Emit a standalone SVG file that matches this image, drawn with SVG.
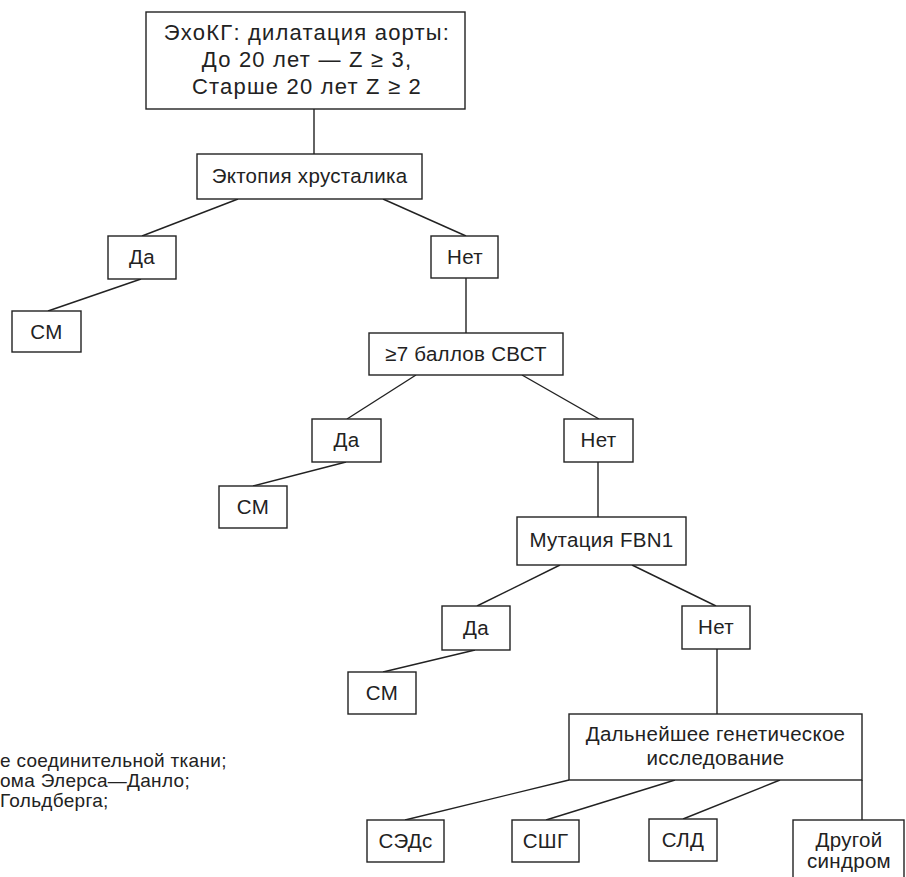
<svg xmlns="http://www.w3.org/2000/svg" width="906" height="877" viewBox="0 0 906 877">
<style>
.b{fill:#fff;stroke:#222;stroke-width:1.4}
.c line{stroke:#222;stroke-width:1.4;fill:none}
text{font-family:"Liberation Sans",Arial,sans-serif;fill:#222;font-size:20.5px;letter-spacing:0.3px;text-anchor:middle}
.big{font-size:22px;letter-spacing:1.2px}
.leg{font-size:19px;letter-spacing:0.3px;text-anchor:start}
</style>
<rect width="906" height="877" fill="#fff"/>
<g class="c" id="connectors">
<line x1="314" y1="109" x2="314" y2="154"/>
<line x1="238" y1="199" x2="142" y2="236"/>
<line x1="383" y1="199" x2="466" y2="236"/>
<line x1="141" y1="279" x2="48" y2="311"/>
<line x1="466" y1="278" x2="466" y2="333"/>
<line x1="416" y1="375" x2="347" y2="419"/>
<line x1="522" y1="375" x2="599" y2="419"/>
<line x1="346" y1="462" x2="253" y2="486"/>
<line x1="598" y1="462" x2="598" y2="517"/>
<line x1="560" y1="565" x2="477" y2="606"/>
<line x1="632" y1="565" x2="716" y2="606"/>
<line x1="475" y1="650" x2="383" y2="672"/>
<line x1="717" y1="649" x2="717" y2="714"/>
<line x1="569" y1="780" x2="405" y2="820"/>
<line x1="675" y1="780" x2="546" y2="820"/>
<line x1="780" y1="780" x2="683" y2="819"/>
<line x1="862" y1="780" x2="862" y2="820"/>
</g>
<g id="n-echo"><rect class="b" x="146" y="12" width="319" height="97"/>
<text class="big" x="307" y="40">ЭхоКГ: дилатация аорты:</text>
<text class="big" x="307" y="67">До 20 лет — Z ≥ 3,</text>
<text class="big" x="307" y="94">Старше 20 лет Z ≥ 2</text></g>
<g id="n-ect"><rect class="b" x="197" y="154" width="225" height="45"/><text x="309.5" y="183">Эктопия хрусталика</text></g>
<g id="n-da1"><rect class="b" x="108" y="236" width="68" height="43"/><text x="142" y="264">Да</text></g>
<g id="n-net1"><rect class="b" x="431" y="236" width="67" height="42"/><text x="465" y="264">Нет</text></g>
<g id="n-cm1"><rect class="b" x="12" y="311" width="69" height="41"/><text x="46.5" y="339">СМ</text></g>
<g id="n-svst"><rect class="b" x="369" y="333" width="194" height="42"/><text x="466" y="361">≥7 баллов СВСТ</text></g>
<g id="n-da2"><rect class="b" x="312" y="419" width="69" height="43"/><text x="346.5" y="447">Да</text></g>
<g id="n-net2"><rect class="b" x="564" y="419" width="69" height="43"/><text x="598.5" y="447">Нет</text></g>
<g id="n-cm2"><rect class="b" x="219" y="486" width="68" height="42"/><text x="253" y="514">СМ</text></g>
<g id="n-fbn"><rect class="b" x="517" y="517" width="169" height="48"/><text x="601.5" y="547">Мутация FBN1</text></g>
<g id="n-da3"><rect class="b" x="442" y="606" width="68" height="44"/><text x="476" y="635">Да</text></g>
<g id="n-net3"><rect class="b" x="682" y="606" width="68" height="43"/><text x="716" y="634">Нет</text></g>
<g id="n-cm3"><rect class="b" x="348" y="672" width="68" height="42"/><text x="382" y="700">СМ</text></g>
<g id="n-gen"><rect class="b" x="569" y="714" width="293" height="66"/>
<text x="715.5" y="741">Дальнейшее генетическое</text>
<text x="715.5" y="765">исследование</text></g>
<g id="n-seds"><rect class="b" x="367" y="820" width="77" height="42"/><text x="405.5" y="848">СЭДс</text></g>
<g id="n-sshg"><rect class="b" x="512" y="820" width="67" height="42"/><text x="545.5" y="848">СШГ</text></g>
<g id="n-sld"><rect class="b" x="649" y="819" width="68" height="42"/><text x="683" y="847">СЛД</text></g>
<g id="n-other"><rect class="b" x="793" y="820" width="111" height="70"/>
<text x="849" y="847">Другой</text><text x="849" y="868">синдром</text></g>
<g id="legend">
<text class="leg" x="0" y="767">е соединительной ткани;</text>
<text class="leg" x="0" y="787">ома Элерса—Данло;</text>
<text class="leg" x="0" y="807">Гольдберга;</text>
</g>
</svg>
